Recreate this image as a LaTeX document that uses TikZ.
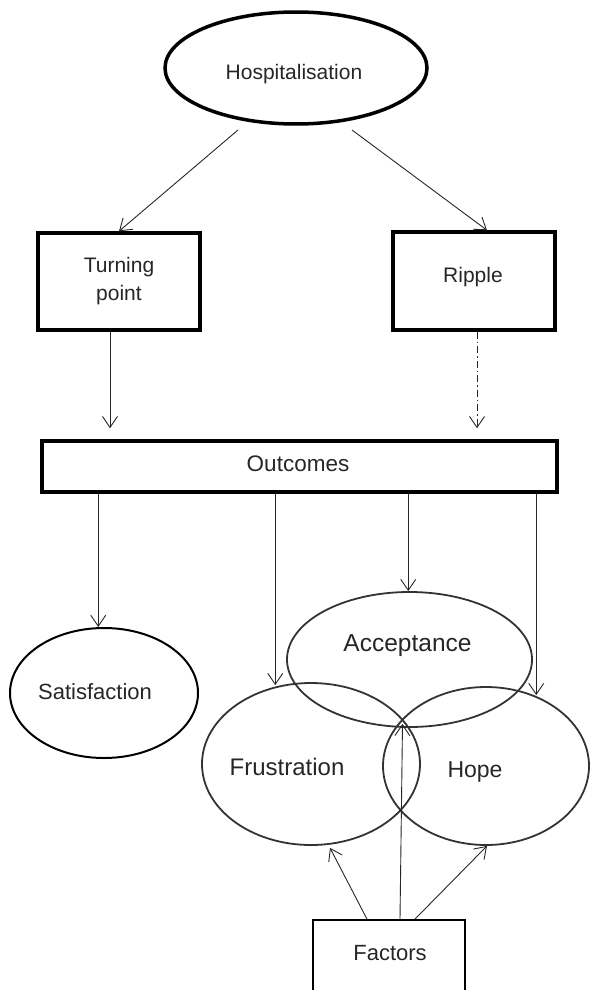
\documentclass[tikz,border=0pt]{standalone}
\usepackage{fontspec}
\setmainfont{Liberation Sans}
\usetikzlibrary{shapes.geometric,arrows.meta,calc}
\newcommand\tpos[3]{\raisebox{#2}[0pt][0pt]{\makebox[0pt][c]{\hspace*{#1}\hspace*{#1}#3}}}
\begin{document}
\begin{tikzpicture}[x=1pt,y=-1pt,
  txt/.style={text=black!85},
  thickbox/.style={draw, rectangle, line width=3.5pt, inner sep=0pt, align=center, txt},
  thinbox/.style={draw, rectangle, line width=1.8pt, inner sep=0pt, align=center, txt},
  oval/.style={draw, ellipse, inner sep=0pt, line width=1.8pt, txt},
  venn/.style={oval, draw=black!80},
  arr/.style={-{Straight Barb[length=11pt,width=15pt,line width=0.9pt]}, line width=0.9pt, draw=black!85},
  dashdot/.style={dash pattern=on 7pt off 3pt on 1.5pt off 3pt}
]
\useasboundingbox (0,0) rectangle (590,990);

\node[oval, line width=3.5pt, draw=black, minimum width=262pt, minimum height=112pt,
      font=\fontsize{21}{25}\selectfont] (hosp) at (296,68) {\tpos{-2pt}{-11.5pt}{Hospitalisation}};

\node[thickbox, minimum width=162pt, minimum height=97pt,
      font=\fontsize{21}{28}\selectfont] (tp) at (119,281.5) {Turning\\point};
\node[thickbox, minimum width=162pt, minimum height=98pt,
      font=\fontsize{21}{25}\selectfont] (rip) at (474,281) {\tpos{-1pt}{-1.5pt}{Ripple}};

\node[thickbox, minimum width=515pt, minimum height=51pt,
      font=\fontsize{22.5}{26}\selectfont] (out) at (299.5,466.5) {\tpos{-1.5pt}{-4.6pt}{Outcomes}};

\node[oval, draw=black, line width=2pt, minimum width=188pt, minimum height=130pt,
      font=\fontsize{22}{26}\selectfont] (sat) at (104,693) {\tpos{-9pt}{-6.9pt}{Satisfaction}};

\node[venn, minimum width=245pt, minimum height=135pt,
      font=\fontsize{24.5}{28}\selectfont] (acc) at (409.5,659.5) {\tpos{-2pt}{8.1pt}{Acceptance}};
\node[venn, minimum width=218pt, minimum height=162pt,
      font=\fontsize{24}{28}\selectfont] (fru) at (311,764) {\tpos{-24pt}{-11.6pt}{Frustration}};
\node[venn, minimum width=206pt, minimum height=158pt,
      font=\fontsize{23}{27}\selectfont] (hope) at (486,766) {\tpos{-11pt}{-11.2pt}{Hope}};

\node[thinbox, draw=black, minimum width=152pt, minimum height=80pt,
      font=\fontsize{22}{26}\selectfont] (fac) at (389,960) {\tpos{1pt}{-0.9pt}{Factors}};

% Hospitalisation to the two boxes
\draw[arr] ($(hosp.center)+(-58,62)$) -- (tp.north);
\draw[arr] ($(hosp.center)+(56,62)$) -- ($(rip.north)+(13,0)$);

% boxes to Outcomes
\coordinate (t1) at ($(tp.south)+(-9,0)$);
\coordinate (r1) at ($(rip.south)+(3,0)$);
\draw[arr, shorten >=11pt] (t1) -- (t1 |- out.north);
\draw[arr, dashdot, shorten >=11pt] (r1) -- (r1 |- out.north);

% Outcomes to the results
\coordinate (o1) at ($(out.south west)+(58,0)$);
\coordinate (o2) at ($(out.south west)+(235,0)$);
\coordinate (o3) at ($(out.south west)+(368,0)$);
\coordinate (o4) at ($(out.south west)+(496,0)$);
\draw[arr] (o1) -- (o1 |- sat.north);
\draw[arr, shorten >=-3pt] (o2) -- (o2 |- fru.north);
\draw[arr] (o3) -- (o3 |- acc.north);
\draw[arr, shorten >=-9pt] (o4) -- (o4 |- hope.north);

% Factors
\draw[arr] ($(fac.north)+(-22,0)$) -- ($(fru.south)+(19,2)$);
\draw[arr] ($(fac.north)+(11,0)$) -- ($(acc.south)+(-7,-4)$);
\draw[arr] ($(fac.north)+(26,0)$) -- ($(hope.south)+(1,0)$);
\end{tikzpicture}
\end{document}
